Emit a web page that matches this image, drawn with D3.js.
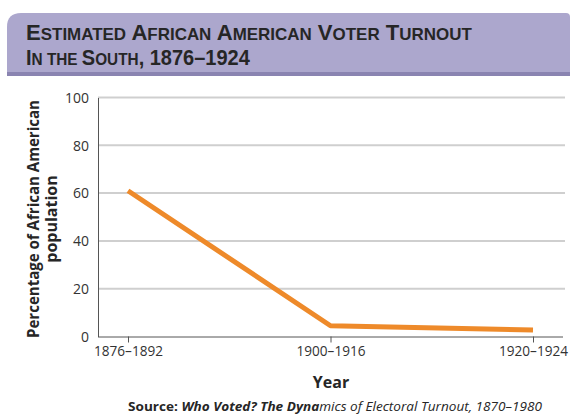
<!DOCTYPE html>
<html><head><meta charset="utf-8">
<script src="https://cdn.jsdelivr.net/npm/d3@7"></script>
<style>body{margin:0;background:#fff}svg{display:block}</style>
</head><body>
<svg id="c" width="574" height="417"></svg>
<script>
const categories = ["1876–1892", "1900–1916", "1920–1924"];
const turnout = [61, 4.5, 2.7];
const yTicks = [0, 20, 40, 60, 80, 100];

const svg = d3.select("#c");
const font = "'Open Sans', 'Noto Sans', sans-serif";
const titleFont = "'Liberation Sans', Arial, sans-serif";

// banner
const bx = 7, by = 13, bw = 563, bh = 63, r = 14;
svg.append("path")
  .attr("d", `M${bx},${by+bh} L${bx},${by+r} Q${bx},${by} ${bx+r},${by} L${bx+bw-4},${by} Q${bx+bw},${by} ${bx+bw},${by+4} L${bx+bw},${by+bh} Z`)
  .attr("fill", "#aca7cd");
svg.append("rect").attr("x", bx).attr("y", by+bh-4).attr("width", bw).attr("height", 4).attr("fill", "#8a84b1");

// title lines in small caps, fitted horizontally with a scale transform
const big = 21.5, small = 16.5;
function titleLine(parts, yBase, width) {
  const g = svg.append("g");
  const t = g.append("text").attr("x", 0).attr("y", 0).attr("font-family", titleFont)
    .attr("font-weight", 700).attr("fill", "#262626");
  parts.forEach(([s, isBig]) => t.append("tspan").attr("font-size", isBig ? big : small).text(s));
  const w = t.node().getComputedTextLength();
  g.attr("transform", `translate(26,${yBase}) scale(${width / w},1)`);
}
const line1 = [];
["ESTIMATED", "AFRICAN", "AMERICAN", "VOTER", "TURNOUT"].forEach((w, i) => {
  line1.push([(i ? " " : "") + w[0], true]);
  line1.push([w.slice(1), false]);
});
titleLine(line1, 40, 446);
titleLine([["I", true], ["N THE ", false], ["S", true], ["OUTH", false], [", 1876–1924", true]], 65, 224);

// scales
const x = d3.scalePoint().domain(categories).range([128, 533]);
const y = d3.scaleLinear().domain([0, 100]).range([336.5, 97.5]);

// gridlines
svg.append("g").selectAll("line").data(yTicks.filter(d => d > 0)).join("line")
  .attr("x1", 98).attr("x2", 565).attr("y1", d => y(d)).attr("y2", d => y(d))
  .attr("stroke", "#cfcfcf").attr("stroke-width", 2);

// y axis
const ya = svg.append("g").attr("transform", "translate(98,0)")
  .call(d3.axisLeft(y).tickValues(yTicks).tickSize(0).tickPadding(9));
ya.select(".domain").attr("stroke", "#555").attr("stroke-width", 1);
ya.selectAll("text").attr("font-family", font).attr("font-size", 15).attr("fill", "#333")
  .attr("textLength", d => d === 100 ? 24 : d === 0 ? 8 : 16).attr("lengthAdjust", "spacingAndGlyphs");

// x axis
const xa = svg.append("g").attr("transform", `translate(0,${y(0)})`)
  .call(d3.axisBottom(x).tickSize(6).tickPadding(3).tickSizeOuter(0));
xa.select(".domain").attr("d", `M98,0.5H563`).attr("stroke", "#555");
xa.selectAll(".tick line").attr("stroke", "#555");
xa.selectAll("text").attr("font-family", font).attr("font-size", 15).attr("fill", "#333")
  .attr("textLength", 69).attr("lengthAdjust", "spacingAndGlyphs");

// line
const pts = categories.map((c, i) => [x(c), y(turnout[i])]);
svg.append("path").attr("d", d3.line()(pts)).attr("fill", "none")
  .attr("stroke", "#ee8a2a").attr("stroke-width", 5).attr("stroke-linejoin", "round");

// axis titles
const yt = svg.append("text").attr("transform", "rotate(-90)")
  .attr("font-family", font).attr("font-weight", 700).attr("font-size", 16).attr("fill", "#262626")
  .attr("text-anchor", "middle");
yt.append("tspan").attr("x", -219).attr("y", 39).attr("textLength", 238).attr("lengthAdjust", "spacingAndGlyphs")
  .text("Percentage of African American");
yt.append("tspan").attr("x", -219).attr("y", 57).text("population");

svg.append("text").attr("x", 331).attr("y", 388).attr("text-anchor", "middle")
  .attr("font-family", font).attr("font-weight", 700).attr("font-size", 16).attr("fill", "#262626")
  .text("Year");

const src = svg.append("text").attr("x", 128).attr("y", 411)
  .attr("font-family", font).attr("font-size", 13).attr("fill", "#262626")
  .attr("textLength", 414).attr("lengthAdjust", "spacingAndGlyphs");
src.append("tspan").attr("font-weight", 700).text("Source: ");
src.append("tspan").attr("font-weight", 700).attr("font-style", "italic").text("Who Voted? The Dyna");
src.append("tspan").attr("font-style", "italic").text("mics of Electoral Turnout, 1870–1980");
</script>
</body></html>
